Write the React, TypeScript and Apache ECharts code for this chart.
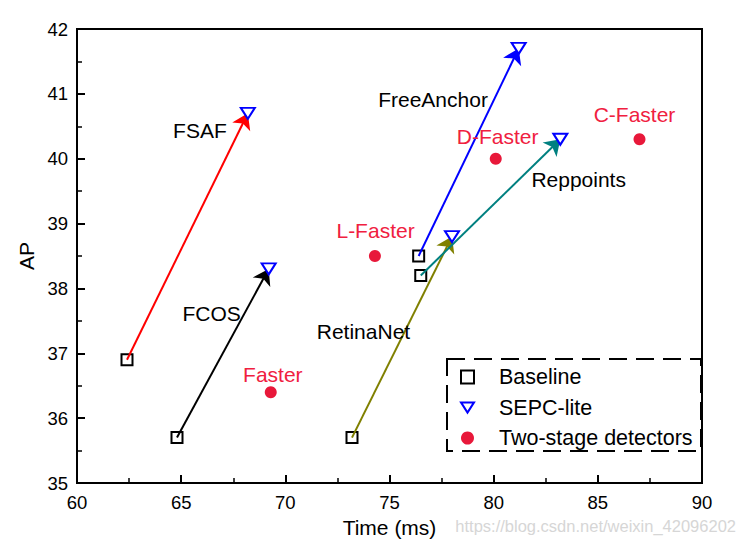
import React, { useEffect, useRef } from "react";
import * as echarts from "echarts";

// Detectors with baseline and SEPC-lite results
const detectors = ["FSAF", "FCOS", "RetinaNet", "FreeAnchor", "Reppoints"];
const baselineTime = [62.4, 64.8, 73.2, 76.4, 76.5];
const baselineAP = [36.9, 35.7, 35.7, 38.5, 38.2];
const sepcTime = [68.2, 69.2, 78.0, 81.2, 83.2];
const sepcAP = [40.7, 38.3, 38.8, 41.7, 40.3];
const arrowColors = ["#ff0000", "#000000", "#808000", "#0000ff", "#008080"];
// label anchors (data coords) for detector names
const detectorLabelTime = [65.9, 66.46, 73.75, 77.09, 84.08];
const detectorLabelAP = [40.43, 37.62, 37.33, 40.92, 39.68];

// Two-stage detectors
const twoStage = ["Faster", "L-Faster", "D-Faster", "C-Faster"];
const twoStageTime = [69.3, 74.3, 80.1, 87.0];
const twoStageAP = [36.4, 38.5, 40.0, 40.3];
const twoStageLabelTime = [69.4, 74.33, 80.19, 86.76];
const twoStageLabelAP = [36.68, 38.9, 40.34, 40.68];

const xTicks = { min: 60, max: 90, interval: 5 };
const yTicks = { min: 35, max: 42, interval: 1 };

const FONT = "'Liberation Sans', Arial, sans-serif";
const RED_TEXT = "#f0203f";
const RED_MARK = "#e8183a";

export default function App() {
  const ref = useRef<HTMLDivElement>(null);
  useEffect(() => {
    if (!ref.current) return;
    const chart = echarts.init(ref.current, null, { renderer: "svg" });

    const axisCommon = {
      axisLine: { show: true, onZero: false, lineStyle: { color: "#000", width: 2 } },
      axisTick: { show: true, inside: true, length: 8, lineStyle: { color: "#000", width: 2 } },
      minorTick: { show: true, splitNumber: 2, length: 5, lineStyle: { color: "#000", width: 1.5 } },
      splitLine: { show: false },
      axisLabel: { color: "#000", fontSize: 18.5, fontFamily: FONT },
      nameTextStyle: { color: "#000", fontSize: 21, fontFamily: FONT },
    };

    const option: any = {
      animation: false,
      textStyle: { fontFamily: FONT },
      grid: {
        left: 77,
        right: 44,
        top: 29,
        bottom: 64,
        show: true,
        borderColor: "#000",
        borderWidth: 2,
        backgroundColor: "transparent",
      },
      xAxis: {
        type: "value",
        ...xTicks,
        ...axisCommon,
        axisLabel: { ...axisCommon.axisLabel, margin: 10 },
        name: "Time (ms)",
        nameLocation: "middle",
        nameGap: 32,
      },
      yAxis: {
        type: "value",
        ...yTicks,
        ...axisCommon,
        axisLabel: { ...axisCommon.axisLabel, margin: 9 },
        name: "AP",
        nameLocation: "middle",
        nameGap: 30,
      },
      legend: {
        data: [
          { name: "Baseline" },
          { name: "SEPC-lite", icon: "path://M0,0 L14,0 L7,11 Z" },
          { name: "Two-stage detectors" },
        ],
        orient: "vertical",
        left: 460,
        top: 366,
        itemWidth: 13,
        itemHeight: 13,
        itemGap: 8.5,
        align: "left",
        padding: 0,
        textStyle: {
          color: "#000",
          fontSize: 21.5,
          fontFamily: FONT,
          lineHeight: 22,
          padding: [0, 0, 0, 20],
        },
      },
      graphic: [
        {
          type: "rect",
          shape: { x: 447, y: 359, width: 254, height: 92 },
          style: { fill: "none", stroke: "#000", lineWidth: 2, lineDash: [18, 9] },
          z: 100,
        },
        {
          type: "text",
          right: 10,
          top: 517,
          style: {
            text: "https://blog.csdn.net/weixin_42096202",
            fill: "#d6d6d6",
            fontSize: 16.5,
            fontFamily: FONT,
          },
          z: 100,
        },
      ],
      series: [
        {
          name: "Baseline",
          type: "scatter",
          symbol: "rect",
          symbolSize: 11,
          itemStyle: { color: "#fff", borderColor: "#000", borderWidth: 2, opacity: 1 },
          data: baselineTime.map((t, i) => [t, baselineAP[i]]),
          z: 2,
        },
        {
          name: "arrows",
          type: "lines",
          coordinateSystem: "cartesian2d",
          symbol: ["none", "arrow"],
          symbolSize: [0, 15],
          data: detectors.map((d, i) => ({
            coords: [
              [baselineTime[i], baselineAP[i]],
              [sepcTime[i], sepcAP[i]],
            ],
            lineStyle: { color: arrowColors[i], width: 2, opacity: 1 },
          })),
          lineStyle: { width: 2, opacity: 1 },
          z: 3,
        },
        {
          name: "SEPC-lite",
          type: "scatter",
          symbol: "triangle",
          symbolRotate: 180,
          symbolSize: [14, 11],
          itemStyle: { color: "#fff", borderColor: "#0000ff", borderWidth: 2, opacity: 1 },
          data: sepcTime.map((t, i) => [t, sepcAP[i]]),
          z: 4,
        },
        {
          name: "Two-stage detectors",
          type: "scatter",
          symbol: "circle",
          symbolSize: 12,
          itemStyle: { color: RED_MARK, opacity: 1 },
          data: twoStageTime.map((t, i) => [t, twoStageAP[i]]),
          z: 4,
        },
        {
          name: "detectorLabels",
          type: "scatter",
          symbolSize: 1,
          itemStyle: { color: "transparent", opacity: 1 },
          silent: true,
          label: {
            show: true,
            position: "inside",
            formatter: (p: any) => p.name,
            color: "#000",
            fontSize: 21,
            fontFamily: FONT,
          },
          data: detectors.map((d, i) => ({ name: d, value: [detectorLabelTime[i], detectorLabelAP[i]] })),
          z: 5,
        },
        {
          name: "twoStageLabels",
          type: "scatter",
          symbolSize: 1,
          itemStyle: { color: "transparent", opacity: 1 },
          silent: true,
          label: {
            show: true,
            position: "inside",
            formatter: (p: any) => p.name,
            color: RED_TEXT,
            fontSize: 21,
            fontFamily: FONT,
          },
          data: twoStage.map((d, i) => ({ name: d, value: [twoStageLabelTime[i], twoStageLabelAP[i]] })),
          z: 5,
        },
      ],
    };

    chart.setOption(option);
    return () => chart.dispose();
  }, []);

  return <div ref={ref} style={{ width: 746, height: 547, position: "absolute", left: 0, top: 0 }} />;
}
